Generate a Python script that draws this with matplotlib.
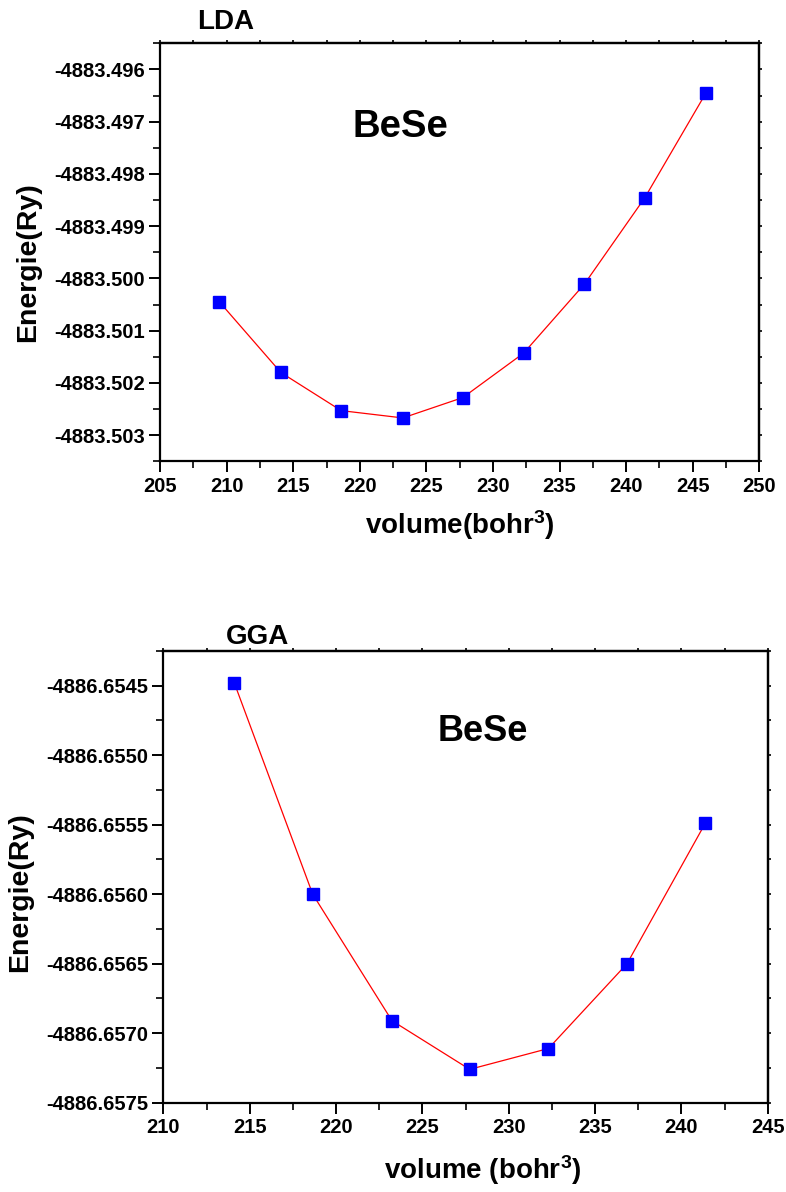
import matplotlib
matplotlib.use('Agg')
import matplotlib.pyplot as plt
from matplotlib.ticker import MultipleLocator, FormatStrFormatter, NullFormatter

plt.rcParams['font.family'] = ['Liberation Sans', 'DejaVu Sans']
plt.rcParams['font.weight'] = 'bold'
plt.rcParams['axes.unicode_minus'] = False
plt.rcParams['mathtext.fontset'] = 'custom'
plt.rcParams['mathtext.rm'] = 'Liberation Sans:bold'
plt.rcParams['mathtext.default'] = 'rm'

# LDA energy-volume points
vol_lda = [209.46, 214.07, 218.60, 223.23, 227.74, 232.30, 236.86, 241.39, 245.97]
e_lda = [-4883.50045, -4883.50180, -4883.50253, -4883.50267, -4883.50228,
         -4883.50143, -4883.50011, -4883.49846, -4883.49646]

# GGA energy-volume points
vol_gga = [214.11, 218.65, 223.24, 227.74, 232.30, 236.85, 241.38]
e_gga = [-4886.65448, -4886.65600, -4886.65691, -4886.65726, -4886.65711,
         -4886.65650, -4886.65549]


def style_axes(ax, xmaj, ymaj, yfmt):
    ax.xaxis.set_major_locator(MultipleLocator(xmaj))
    ax.xaxis.set_minor_locator(MultipleLocator(xmaj / 2))
    ax.yaxis.set_major_locator(MultipleLocator(ymaj))
    ax.yaxis.set_minor_locator(MultipleLocator(ymaj / 2))
    ax.yaxis.set_major_formatter(FormatStrFormatter(yfmt))
    for s in ax.spines.values():
        s.set_linewidth(1.6)
    ax.tick_params(which='major', direction='out', length=8, width=1.4,
                   labelsize=14.5, pad=3)
    ax.tick_params(which='minor', direction='out', length=5, width=1.2)
    for lab in ax.get_xticklabels() + ax.get_yticklabels():
        lab.set_fontweight('bold')

    # short ticks along the top and right edges
    top = ax.secondary_xaxis('top')
    top.xaxis.set_major_locator(MultipleLocator(xmaj / 2))
    top.xaxis.set_major_formatter(NullFormatter())
    top.tick_params(direction='out', length=2.5, width=1.2)
    top.spines['top'].set_linewidth(1.6)
    right = ax.secondary_yaxis('right')
    right.yaxis.set_major_locator(MultipleLocator(ymaj / 2))
    right.yaxis.set_major_formatter(NullFormatter())
    right.tick_params(direction='out', length=2.5, width=1.2)
    right.spines['right'].set_linewidth(1.6)


fig = plt.figure(figsize=(7.86, 11.92), dpi=100)

ax1 = fig.add_axes([0.2036, 0.613, 0.7625, 0.3507])
ax1.plot(vol_lda, e_lda, color='red', lw=0.9, marker='s', ms=8,
         mfc='blue', mec='blue')
ax1.set_xlim(205, 250)
ax1.set_ylim(-4883.5035, -4883.4955)
style_axes(ax1, 5, 0.001, '%.3f')

ax2 = fig.add_axes([0.2078, 0.0749, 0.769, 0.379])
ax2.plot(vol_gga, e_gga, color='red', lw=0.9, marker='s', ms=8,
         mfc='blue', mec='blue')
ax2.set_xlim(210, 245)
ax2.set_ylim(-4886.6575, -4886.65425)
style_axes(ax2, 5, 0.0005, '%.4f')

fig.text(0.2875, 0.9815, 'LDA', fontsize=20, fontweight='bold', ha='center', va='center')
fig.text(0.510, 0.8935, 'BeSe', fontsize=27.5, fontweight='bold', ha='center', va='center')
fig.text(0.585, 0.5596, r'volume(bohr$^{3}$)', fontsize=20, fontweight='bold',
         ha='center', va='center')
fig.text(0.036, 0.780, 'Energie(Ry)', fontsize=20.5, fontweight='bold',
         rotation=90, ha='center', va='center')

fig.text(0.327, 0.4656, 'GGA', fontsize=20, fontweight='bold', ha='center', va='center')
fig.text(0.6145, 0.3867, 'BeSe', fontsize=26, fontweight='bold', ha='center', va='center')
fig.text(0.6145, 0.0185, r'volume (bohr$^{3}$)', fontsize=20, fontweight='bold',
         ha='center', va='center')
fig.text(0.026, 0.2517, 'Energie(Ry)', fontsize=20.5, fontweight='bold',
         rotation=90, ha='center', va='center')

fig.savefig('out.png', dpi=100)
